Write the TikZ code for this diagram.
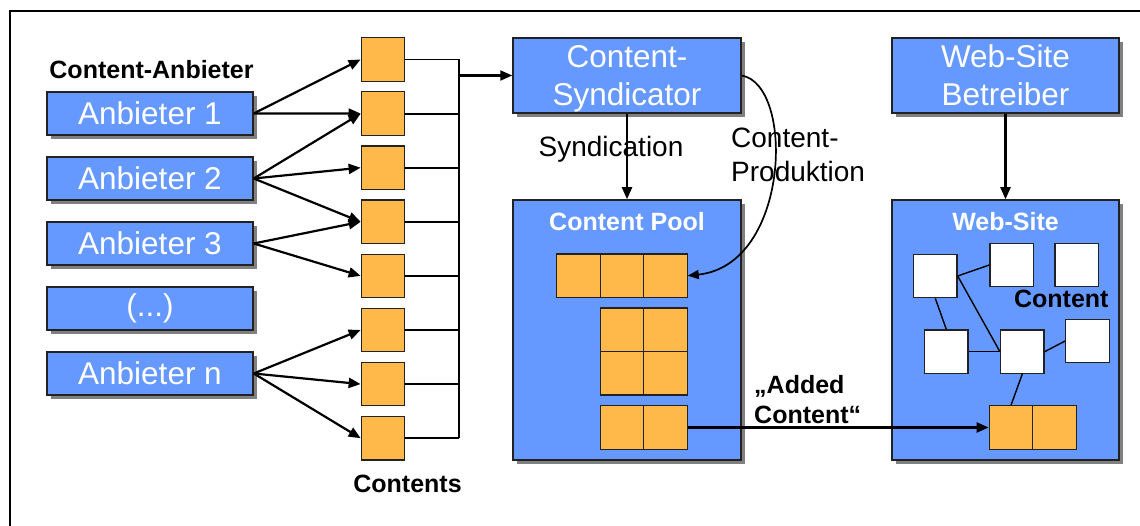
\documentclass[tikz,border=0pt]{standalone}
\usepackage{fontspec}
\setmainfont{Liberation Sans}
\usetikzlibrary{arrows.meta,shadows}
\definecolor{boxblue}{HTML}{6699FF}
\definecolor{cellorange}{HTML}{FFB84A}
\definecolor{edgecol}{HTML}{222222}
\tikzset{
  bluebox/.style={draw=edgecol, line width=1.5pt, fill=boxblue, inner sep=0pt, text=white, align=center,
    font=\fontsize{31.5}{38}\selectfont,
    drop shadow={shadow xshift=4pt, shadow yshift=-4pt, fill=black!50, opacity=1}},
  anb/.style={bluebox, minimum width=206pt, minimum height=43pt},
  bigbox/.style={bluebox, minimum height=260pt},
  cell/.style={draw=edgecol, line width=1.2pt, fill=cellorange, minimum size=43.5pt, inner sep=0pt},
  wcell/.style={draw=edgecol, line width=1.2pt, fill=white, minimum size=43.5pt, inner sep=0pt},
  arr/.style={line width=2.2pt, -{Triangle[length=12pt,width=10pt]}},
  wire/.style={line width=1.9pt},
  thin/.style={line width=1.4pt},
  boldlab/.style={font=\bfseries\fontsize{25}{30}\selectfont, inner sep=0pt},
  normlab/.style={font=\fontsize{28}{34}\selectfont, inner sep=0pt}
}
\begin{document}
\begin{tikzpicture}[x=1pt,y=-1pt]
\useasboundingbox (0,0) rectangle (1140,526);
% frame
\coordinate (fbl) at (10,526);
\coordinate (ftl) at (10,11);
\coordinate (ftr) at (1140,11);
\draw[line width=2.6pt] (fbl) -- (ftl) -- (ftr);

% providers
\node[boldlab, anchor=base] (calab) at (151.5,79) {Content-Anbieter};
\node[anb] (a1) at (150,113.5) {Anbieter 1};
\node[anb] (a2) at (150,178.5) {Anbieter 2};
\node[anb] (a3) at (150,243.5) {Anbieter 3};
\node[anb] (a4) at (150,308.5) {(...)};
\node[anb] (a5) at (150,373.5) {Anbieter n};

% content squares
\foreach \i in {1,...,8}
  \node[cell] (s\i) at (383,{59.5+54.1*(\i-1)}) {};
\node[boldlab, anchor=base] (contentslab) at (407.5,492) {Contents};

% bus
\coordinate (bt) at (459,59.5);
\coordinate (bb) at (459,438.3);
\coordinate (bj) at (459,75.5);
\draw[wire] (bt) -- (bb);
\foreach \i in {1,...,8}
  \draw[wire] (s\i.east) -- (s\i.east -| bt);

% provider arrows
\draw[arr] (a1.east) -- (s1.west);
\draw[arr] (a1.east) -- (s2.west);
\draw[arr] (a2.east) -- (s2.west);
\draw[arr] (a2.east) -- (s3.west);
\draw[arr] (a2.east) -- (s4.west);
\draw[arr] (a3.east) -- (s4.west);
\draw[arr] (a3.east) -- (s5.west);
\draw[arr] (a5.east) -- (s6.west);
\draw[arr] (a5.east) -- (s7.west);
\draw[arr] (a5.east) -- (s8.west);

% syndicator and operator
\node[bluebox, minimum width=228pt, minimum height=75pt] (syn) at (627,75.5) {Content-\\\smash{Syndicator}};
\node[bluebox, minimum width=227pt, minimum height=75pt] (wsb) at (1005.5,75.5) {Web-Site\\Betreiber};
\draw[arr] (bj) -- (syn.west);

% pool and website
\node[bigbox, minimum width=228pt] (pool) at (627,330) {};
\node[bigbox, minimum width=227pt] (web) at (1005.5,330) {};
\node[boldlab, text=white, anchor=base] (pooltitle) at (627,231) {Content Pool};
\node[boldlab, text=white, anchor=base] (webtitle) at (1005.5,231) {Web-Site};

% pool cells
\node[cell] (p11) at (578.4,275.7) {};
\node[cell] (p12) at (621.9,275.7) {};
\node[cell] (p13) at (665.4,275.7) {};
\node[cell] (p21) at (621.9,329.8) {};
\node[cell] (p22) at (665.4,329.8) {};
\node[cell] (p31) at (621.9,373.3) {};
\node[cell] (p32) at (665.4,373.3) {};
\node[cell] (p41) at (621.9,427.5) {};
\node[cell] (p42) at (665.4,427.5) {};

% website content
\node[wcell] (wa) at (935.3,276) {};
\node[wcell] (wb) at (1011.7,265) {};
\node[wcell] (wc) at (1076.7,265) {};
\node[wcell] (wd) at (946.3,351.7) {};
\node[wcell] (we) at (1022.3,351.7) {};
\node[wcell] (wf) at (1087.5,341) {};
\node[cell] (w1) at (1011,427.5) {};
\node[cell] (w2) at (1054.5,427.5) {};
\node[boldlab, anchor=base] (contlab) at (1061.3,308) {Content};
\draw[thin] (wa.east) -- (wb.west);
\draw[thin] (wa.east) -- (we.west);
\draw[thin] (wa.south) -- (wd.north);
\draw[thin] (wd.east) -- (we.west);
\draw[thin] (we.east) -- (wf.west);
\draw[thin] (we.south) -- (w1.north);

% labels
\node[normlab, anchor=base] (syndlab) at (611,157) {Syndication};
\node[normlab, anchor=base west] (prodlab1) at (731,148) {Content-};
\node[normlab, anchor=base west] (prodlab2) at (731,182) {Produktion};
\node[boldlab, anchor=base west] (addlab1) at (754,393) {„Added};
\node[boldlab, anchor=base west] (addlab2) at (754,423) {Content“};

% arrows
\draw[arr] (syn.south) -- (pool.north);
\draw[arr] (wsb.south) -- (web.north);
\draw[line width=1.7pt, -{Triangle[length=11pt,width=9pt]}] (syn.east) .. controls (795,85) and (790,265) .. (p13.east);
\draw[arr] (p42.east) -- (w1.west);
\end{tikzpicture}
\end{document}
